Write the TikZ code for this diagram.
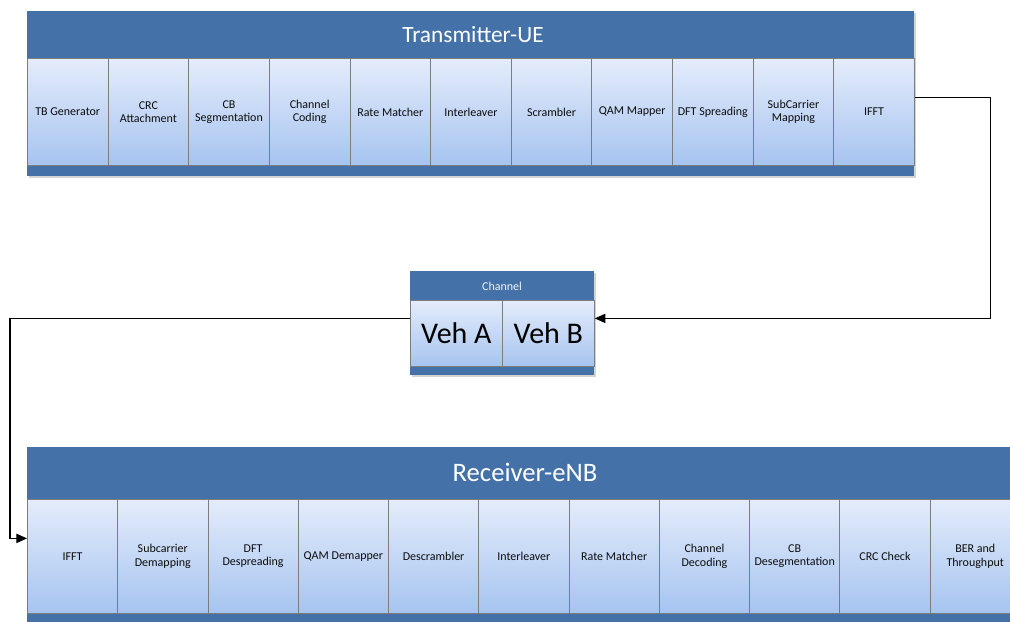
\documentclass[tikz,border=0pt]{standalone}
\usepackage{fontspec}
\setmainfont{Carlito}
\usetikzlibrary{positioning,shadows,arrows.meta}

\definecolor{bandblue}{RGB}{68,114,168}
\definecolor{celltop}{RGB}{228,236,251}
\definecolor{cellbot}{RGB}{166,196,240}
\definecolor{cellline}{RGB}{125,125,125}

\tikzset{
  band/.style={fill=bandblue, draw=none,
    drop shadow={opacity=0.35, shadow xshift=1.5pt, shadow yshift=-1.5pt}},
  stage/.style={draw=cellline, line width=0.6pt, top color=celltop, bottom color=cellbot,
    inner sep=1pt, align=center, anchor=north west, text=black!95,
    font=\fontsize{9}{10}\selectfont},
  link/.style={line width=0.8pt, -{Triangle[length=8pt,width=7pt]}},
}

\begin{document}
\begin{tikzpicture}[x=0.75pt, y=-0.75pt]
  \useasboundingbox (0,0) rectangle (1010,621);
  \clip (0,0) rectangle (1010,621);

  % transmitter chain
  \draw[band] (27,11) rectangle (914,176);
  \node[text=white, font=\fontsize{17.5}{19}\selectfont] (txtitle) at (473,35) {Transmitter-UE};
  \foreach \name [count=\i] in {TB Generator, CRC\\Attachment, CB\\Segmentation, Channel\\Coding,
      Rate Matcher, Interleaver, Scrambler, QAM Mapper, DFT Spreading, SubCarrier\\Mapping, IFFT}
    \node[stage, minimum width=60.48pt, minimum height=80.25pt] (tx\i) at ({27+80.64*(\i-1)},58) {\name};

  % channel
  \draw[band] (410,271) rectangle (594,375);
  \node[text=white!92!bandblue, font=\fontsize{9}{10}\selectfont] (chtitle) at (502,286) {Channel};
  \node[stage, minimum width=69pt, minimum height=49.5pt, text=black, font=\fontsize{22.5}{24}\selectfont] (veha) at (410,300) {Veh A};
  \node[stage, minimum width=69pt, minimum height=49.5pt, text=black, font=\fontsize{22.5}{24}\selectfont] (vehb) at (502,300) {Veh B};

  % receiver chain
  \draw[band] (27,447) rectangle (1020,640);
  \node[text=white, font=\fontsize{20}{22}\selectfont] (rxtitle) at (525,472) {Receiver-eNB};
  \foreach \name [count=\i] in {IFFT, Subcarrier\\Demapping, DFT\\Despreading, QAM Demapper,
      Descrambler, Interleaver, Rate Matcher, Channel\\Decoding, CB\\Desegmentation, CRC Check, BER and\\Throughput}
    \node[stage, minimum width=67.7pt, minimum height=85.5pt] (rx\i) at ({27+90.27*(\i-1)},499) {\name};

  \draw[link] ([yshift=10.5pt]tx11.east) -- ++(76,0) |- ([yshift=11.25pt]vehb.east);
  \draw[link] ([yshift=11.25pt]veha.west) -- ++(-400,0) |- ([yshift=13.5pt]rx1.west);
\end{tikzpicture}
\end{document}
